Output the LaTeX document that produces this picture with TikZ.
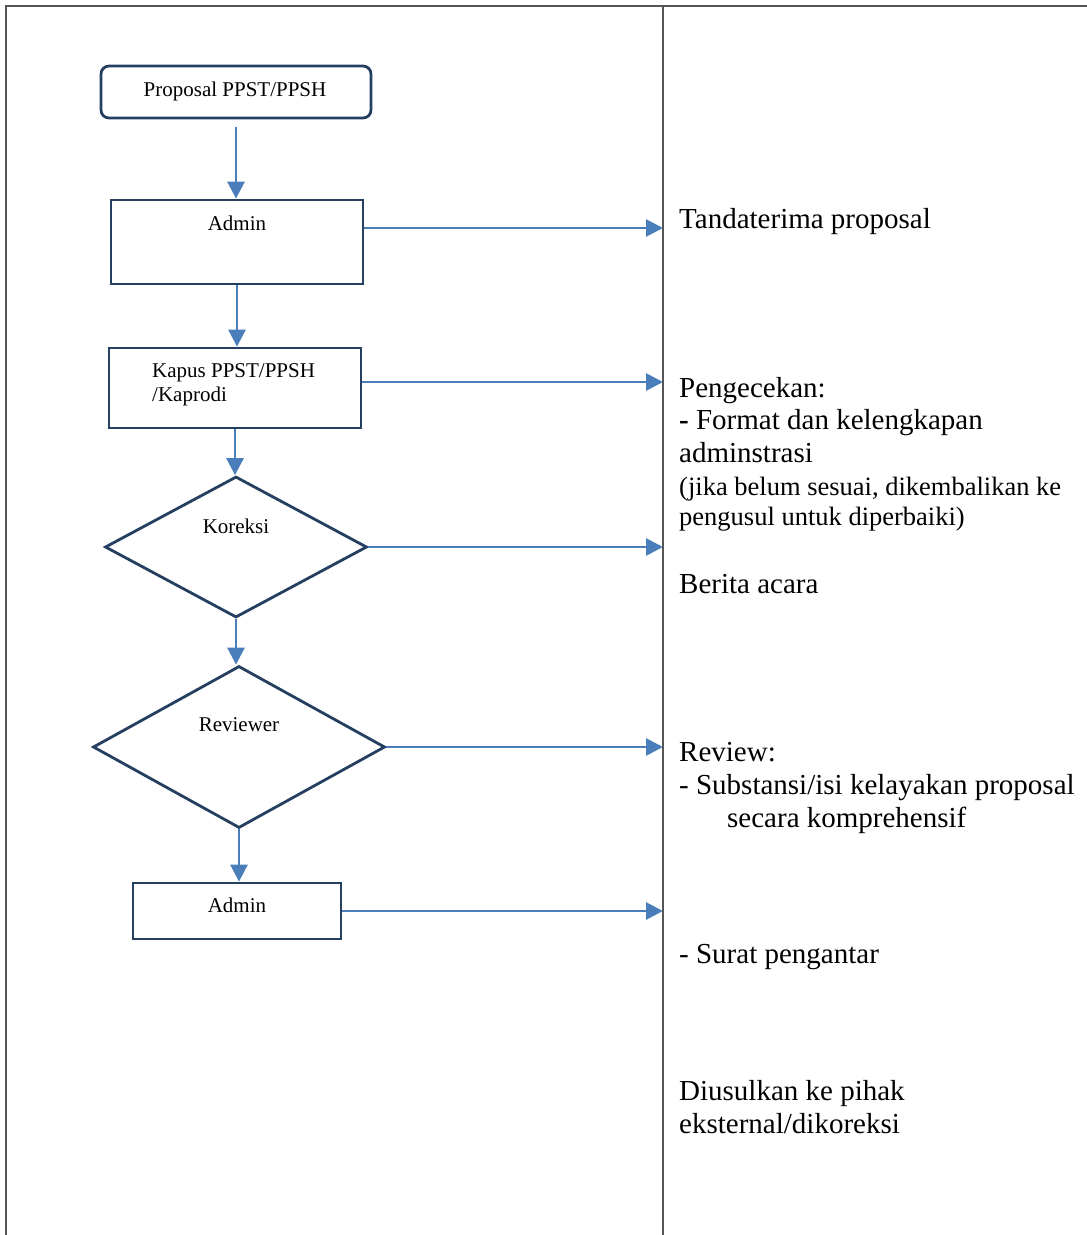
\documentclass[tikz,border=0pt]{standalone}
\usepackage{fontspec}
\setmainfont{Liberation Serif}
\usetikzlibrary{arrows.meta,shapes.geometric}
\definecolor{boxline}{HTML}{243F60}
\definecolor{flowblue}{HTML}{4A7EBB}
\definecolor{rule}{HTML}{555555}
\begin{document}
\begin{tikzpicture}[x=1pt,y=-1pt,
  frame/.style={draw=boxline,line width=2.8pt,inner sep=0pt},
  procbox/.style={frame,rectangle},
  decision/.style={frame,diamond},
  flow/.style={draw=flowblue,line width=2.8pt,-{Triangle[length=17pt,width=17pt]}},
  boxtext/.style={inner sep=0pt,font=\fontsize{21}{24}\selectfont},
  note/.style={anchor=base west,inner sep=0pt,font=\fontsize{29}{33}\selectfont},
  smallnote/.style={anchor=base west,inner sep=0pt,font=\fontsize{26.5}{30}\selectfont}]
\useasboundingbox (0,0) rectangle (1087,1235);

% table rules
\draw[rule,line width=1.6pt] (6,1235) -- (6,6) -- (1087,6);
\draw[rule,line width=1.6pt] (663,6) -- (663,1235);

% flow chart shapes
\node[procbox,rounded corners=8pt,minimum width=270pt,minimum height=52pt] (prop) at (236,92) {};
\node[boxtext,anchor=base] (propT) at (235,96) {Proposal PPST/PPSH};

\node[procbox,minimum width=252pt,minimum height=84pt] (adm1) at (237,242) {};
\node[boxtext,anchor=base] (adm1T) at (237,230) {Admin};

\node[procbox,minimum width=252pt,minimum height=80pt] (kap) at (235,388) {};
\node[boxtext,anchor=base west] (kapT1) at (152,377) {Kapus PPST/PPSH};
\node[boxtext,anchor=base west] (kapT2) at (152,401) {/Kaprodi};

\node[decision,minimum width=262pt,minimum height=141pt] (kor) at (236,547) {};
\node[boxtext,anchor=base] (korT) at (236,533) {Koreksi};

\node[decision,minimum width=292pt,minimum height=162pt] (rev) at (239,747) {};
\node[boxtext,anchor=base] (revT) at (239,731) {Reviewer};

\node[procbox,minimum width=208pt,minimum height=56pt] (adm2) at (237,911) {};
\node[boxtext,anchor=base] (adm2T) at (237,912) {Admin};

% downward flow
\draw[flow,shorten <=8pt] (prop.south) -- (adm1.north -| prop.south);
\draw[flow] (adm1.south) -- (kap.north -| adm1.south);
\draw[flow] (kap.south) -- (kor.north -| kap.south);
\draw[flow] (kor.south) -- (rev.north -| kor.south);
\draw[flow] (rev.south) -- (adm2.north -| rev.south);

% arrow ends on the column rule
\coordinate (e1) at (663,228);
\coordinate (e2) at (663,382);
\coordinate (e3) at (663,547);
\coordinate (e4) at (663,747);
\coordinate (e5) at (663,911);
\draw[flow] (adm1.east |- e1) -- (e1);
\draw[flow] (kap.east |- e2) -- (e2);
\draw[flow] (kor.east) -- (e3);
\draw[flow] (rev.east) -- (e4);
\draw[flow] (adm2.east |- e5) -- (e5);

% right column notes
\node[note] (n1) at (679,228) {Tandaterima proposal};
\node[note] (n2a) at (679,397) {Pengecekan:};
\node[note] (n2b) at (679,429) {\textbf{-} Format dan kelengkapan};
\node[note] (n2c) at (679,462) {adminstrasi};
\node[smallnote] (n2d) at (679,495) {(jika belum sesuai, dikembalikan ke};
\node[smallnote] (n2e) at (679,525) {pengusul untuk diperbaiki)};
\node[note] (n3) at (679,593) {Berita acara};
\node[note] (n4a) at (679,761) {Review:};
\node[note] (n4b) at (679,794) {- Substansi/isi kelayakan proposal};
\node[note] (n4c) at (727,827) {secara komprehensif};
\node[note] (n5) at (679,963) {- Surat pengantar};
\node[note] (n6a) at (679,1100) {Diusulkan ke pihak};
\node[note] (n6b) at (679,1133) {eksternal/dikoreksi};
\end{tikzpicture}
\end{document}
